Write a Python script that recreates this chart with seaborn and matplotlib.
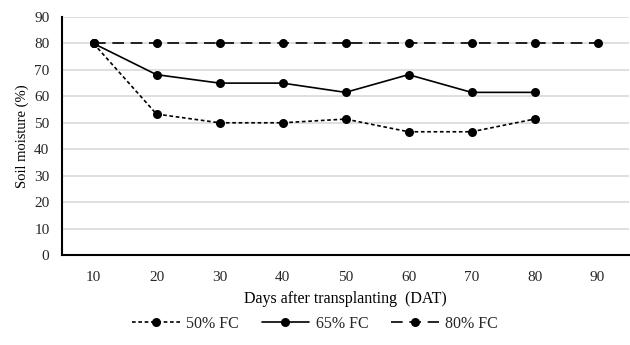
import matplotlib
matplotlib.use("Agg")
import matplotlib.pyplot as plt
import seaborn as sns
import pandas as pd

days = [10, 20, 30, 40, 50, 60, 70, 80, 90]
fc50 = [80, 53.3, 50, 50, 51.4, 46.6, 46.6, 51.4]
fc65 = [80, 68.2, 65, 65, 61.5, 68.2, 61.5, 61.5]
fc80 = [80, 80, 80, 80, 80, 80, 80, 80, 80]
series_names = ["50% FC", "65% FC", "80% FC"]

rows = []
for name, vals in zip(series_names, [fc50, fc65, fc80]):
    for d, v in zip(days, vals):
        rows.append({"DAT": d, "moisture": v, "series": name})
df = pd.DataFrame(rows)

sns.set_theme(style="white")
plt.rcParams["font.family"] = ["Liberation Serif", "DejaVu Serif"]

fig = plt.figure(figsize=(6.3, 3.45), dpi=100)
ax = fig.add_axes([62/630, (345-255)/345, (629-62)/630, (255-17)/345])

dashes = {"50% FC": (2.2, 1.6), "65% FC": "", "80% FC": (7, 4)}
sns.lineplot(data=df, x="DAT", y="moisture", hue="series", style="series",
             dashes=dashes, markers={n: "o" for n in series_names},
             palette={n: "black" for n in series_names},
             markersize=6.5, linewidth=1.2, markeredgewidth=0,
             ax=ax, legend=True)

ax.set_xlim(5, 95)
ax.set_ylim(0, 90)
ax.set_yticks(range(0, 91, 10))
ax.set_xticks(days)
ax.set_xticks([5 + 10*i for i in range(10)], minor=True)
ax.yaxis.grid(True, color="#d9d9d9", linewidth=1.2)
ax.set_axisbelow(True)
for s in ["top", "right"]:
    ax.spines[s].set_visible(False)
for s in ["left", "bottom"]:
    ax.spines[s].set_color("black")
    ax.spines[s].set_linewidth(1.5)
ax.tick_params(axis="x", which="major", direction="inout", length=5, width=1.2,
               colors="black", labelsize=11, pad=9)
ax.tick_params(axis="x", which="minor", direction="out", length=5, width=1.2, colors="black")
ax.tick_params(axis="y", which="major", direction="out", length=5, width=1.2,
               colors="black", labelsize=11, pad=4)
for lbl in ax.get_xticklabels() + ax.get_yticklabels():
    lbl.set_color("#262626")
ax.set_xlabel("Days after transplanting  (DAT)", fontsize=11.5, color="black", labelpad=5)
ax.set_ylabel("Soil moisture (%)", fontsize=10.5, color="black", labelpad=4)

handles, labels = ax.get_legend_handles_labels()
ax.get_legend().remove()
fig.legend(handles, labels, loc="center", bbox_to_anchor=(0.5, 1 - 324/345),
           ncol=3, frameon=False, fontsize=11.5, handlelength=3.0,
           columnspacing=1.4, handletextpad=0.4)

fig.savefig("out.png", dpi=100)
